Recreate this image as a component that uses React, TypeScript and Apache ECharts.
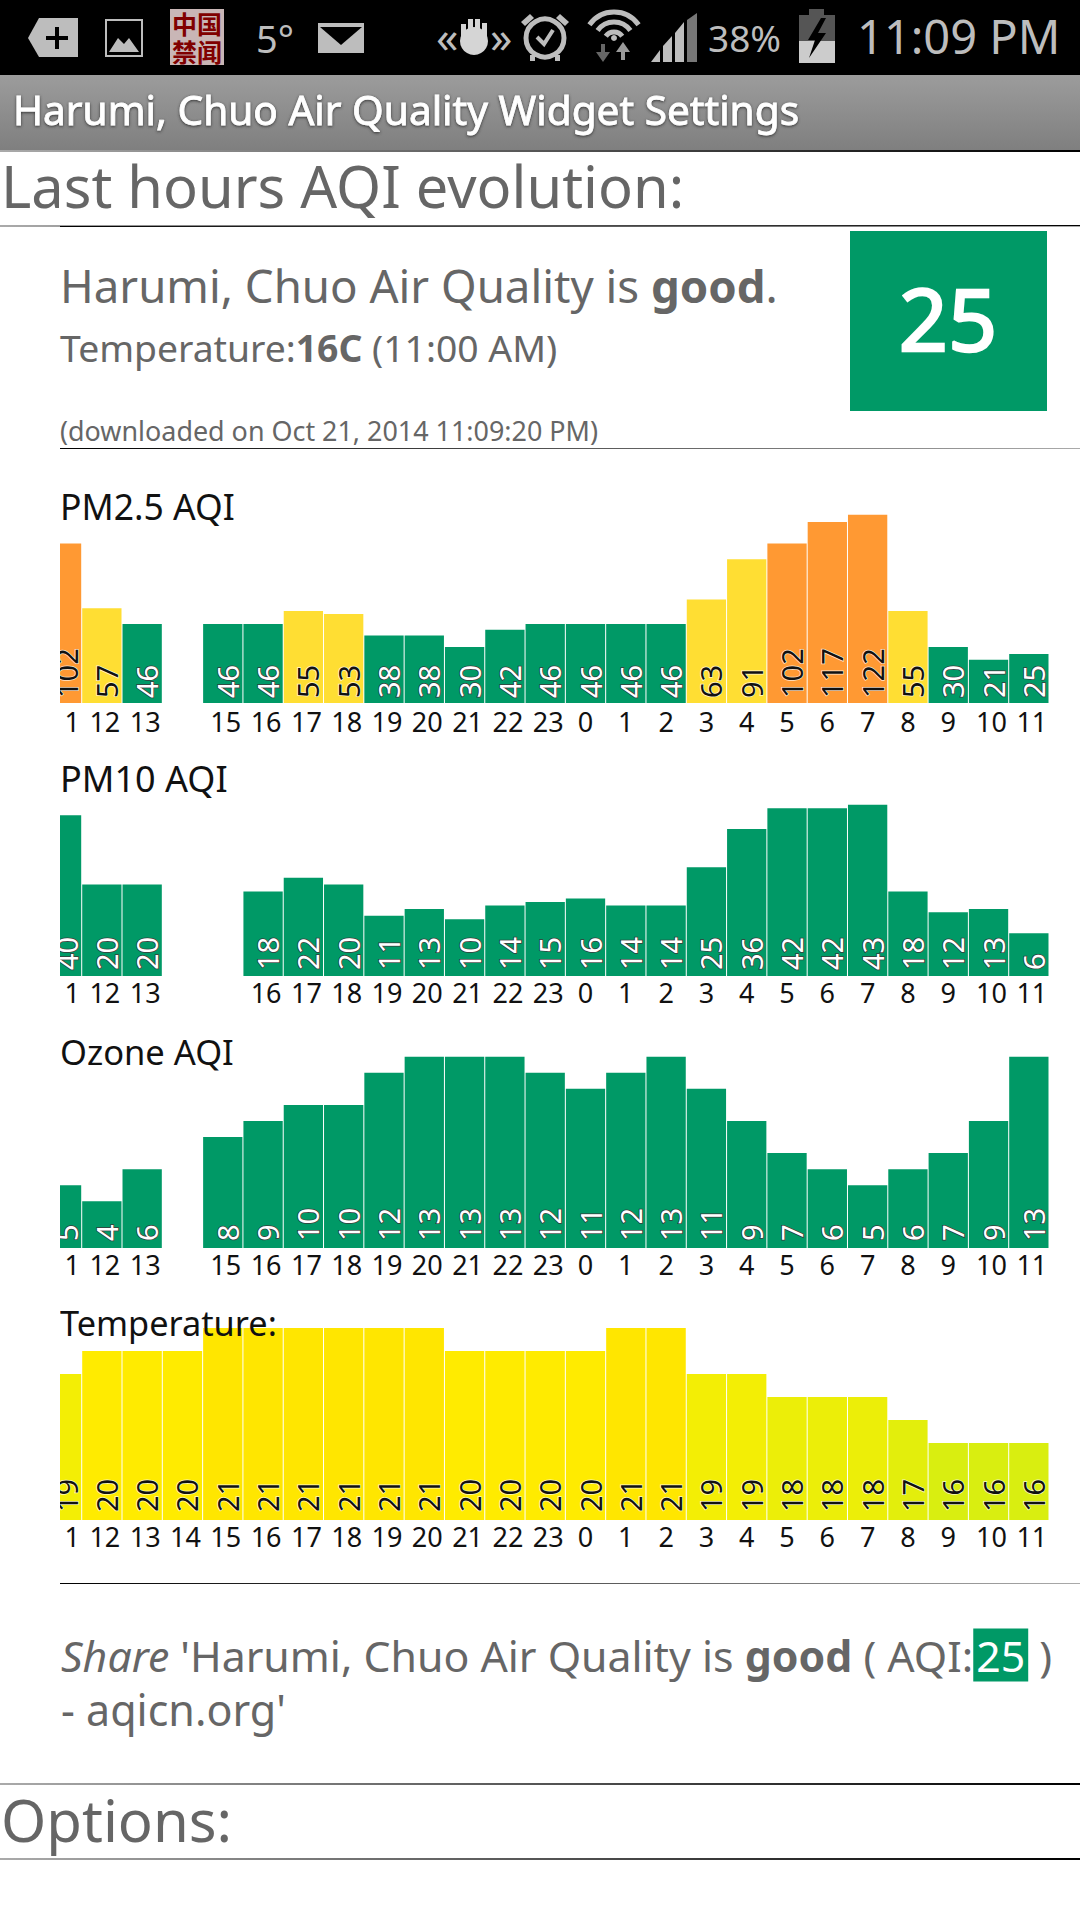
import React, { useEffect, useRef } from "react";
import * as echarts from "echarts";

const FONT = "Noto Sans";
const CJK = "Noto Sans CJK SC";

// Hour slots, oldest first. The first slot (hour 11) is cut off at the left of the page.
const pm25Hours = ["11","12","13","","15","16","17","18","19","20","21","22","23","0","1","2","3","4","5","6","7","8","9","10","11"];
const pm10Hours = ["11","12","13","","","16","17","18","19","20","21","22","23","0","1","2","3","4","5","6","7","8","9","10","11"];
const ozoneHours = ["11","12","13","","15","16","17","18","19","20","21","22","23","0","1","2","3","4","5","6","7","8","9","10","11"];
const tempHours = ["11","12","13","14","15","16","17","18","19","20","21","22","23","0","1","2","3","4","5","6","7","8","9","10","11"];

const pm25Values = [102,57,46,null,46,46,55,53,38,38,30,42,46,46,46,46,63,91,102,117,122,55,30,21,25];
const pm10Values = [40,20,20,null,null,18,22,20,11,13,10,14,15,16,14,14,25,36,42,42,43,18,12,13,6];
const ozoneValues = [5,4,6,null,8,9,10,10,12,13,13,13,12,11,12,13,11,9,7,6,5,6,7,9,13];
const tempValues = [19,20,20,20,21,21,21,21,21,21,20,20,20,20,21,21,19,19,18,18,18,17,16,16,16];

const GREEN = "#009966";
const YELLOW = "#FFDE33";
const ORANGE = "#FF9933";
const tempColours: Record<number, string> = {
  21: "#FFE600", 20: "#FFEB00", 19: "#F3EE05", 18: "#ECEE08", 17: "#E3EE0C", 16: "#D9EE10",
};
const aqiColour = (v: number) => (v <= 50 ? GREEN : v <= 100 ? YELLOW : ORANGE);

const SLOT_LEFT = 41.4;
const SLOT_RIGHT = 1049;

const panels = [
  { name: "PM2.5 AQI", titleTop: 488, titleSize: 35.5, hours: pm25Hours, values: pm25Values, colour: aqiColour, min: -9.05, scale: 1.436, height: 200, bottom: 703, dist: 5, margin: 5 },
  { name: "PM10 AQI", titleTop: 760, titleSize: 36, hours: pm10Hours, values: pm10Values, colour: aqiColour, min: -6.34, scale: 3.47, height: 190, bottom: 976, dist: 6, margin: 3 },
  { name: "Ozone AQI", titleTop: 1034, titleSize: 34.5, hours: ozoneHours, values: ozoneValues, colour: aqiColour, min: 1.095, scale: 16.07, height: 200, bottom: 1248, dist: 7, margin: 3 },
  { name: "Temperature:", titleTop: 1305, titleSize: 34.3, hours: tempHours, values: tempValues, colour: (v: number) => tempColours[v], min: 12.65, scale: 23, height: 200, bottom: 1520, dist: 8, margin: 3 },
];

const hGrad = (a: string, b: string) => ({
  type: "linear", x: 0, y: 0, x2: 1, y2: 0,
  colorStops: [{ offset: 0, color: a }, { offset: 1, color: b }],
});

const rule = (x: number, y: number, w: number, h: number, a: string, b: string) => ({
  type: "rect", shape: { x, y, width: w, height: h }, style: { fill: hGrad(a, b) }, z: 20,
});
const txt = (x: number, y: number, text: string, fontSize: number, fill: string, extra: any = {}) => ({
  type: "text", x, y, z: 30,
  style: { text, fontSize, fill, fontFamily: FONT, verticalAlign: "middle", align: "left", ...extra },
});
const ICON = "#BDBDBD";
const HAND = "#D5D5D5";
const rect = (x: number, y: number, width: number, height: number, fill: string, z = 25) => ({
  type: "rect", shape: { x, y, width, height }, style: { fill }, z,
});
const poly = (points: number[][], fill: string) => ({ type: "polygon", shape: { points }, style: { fill }, z: 26 });
const wifiArc = (r: number) => ({
  type: "arc", shape: { cx: 614, cy: 42, r, startAngle: (-145 * Math.PI) / 180, endAngle: (-35 * Math.PI) / 180 },
  style: { stroke: ICON, lineWidth: 5, fill: "none" }, z: 26,
});

const statusIcons: any[] = [
  poly([[28, 38], [39, 18], [78, 18], [78, 57], [39, 57]], ICON),
  rect(55, 27, 4, 22, "#000", 27), rect(46, 36, 22, 4, "#000", 27),
  { type: "rect", shape: { x: 106, y: 20, width: 36, height: 36 }, style: { fill: "none", stroke: ICON, lineWidth: 2 }, z: 26 },
  poly([[109, 52], [118, 38], [124, 44], [129, 38], [139, 52]], ICON),
  rect(170, 9, 54, 56, "#C9B6B6"),
  txt(172, 23, "中国", 25, "#800000", { fontFamily: CJK, fontWeight: "bold" }),
  txt(172, 51, "禁闻", 25, "#800000", { fontFamily: CJK, fontWeight: "bold" }),
  txt(256, 38, "5°", 38, ICON),
  rect(318, 23, 46, 30, ICON),
  poly([[320, 27], [362, 27], [341, 45]], "#000"),
  txt(436, 36, "«", 44, ICON),
  txt(490, 36, "»", 44, ICON),
  { type: "circle", shape: { cx: 474, cy: 41, r: 14 }, style: { fill: HAND }, z: 26 },
  rect(461, 24, 5, 18, HAND, 26), rect(468, 19, 5, 20, HAND, 26), rect(475, 19, 5, 20, HAND, 26), rect(482, 23, 5, 18, HAND, 26),
  { type: "circle", shape: { cx: 545, cy: 38, r: 19 }, style: { fill: "none", stroke: ICON, lineWidth: 5 }, z: 26 },
  { type: "polyline", shape: { points: [[537, 37], [544, 44], [553, 30]] }, style: { stroke: ICON, lineWidth: 4, fill: "none" }, z: 26 },
  poly([[521, 22], [530, 14], [534, 18], [525, 26]], ICON),
  poly([[569, 22], [560, 14], [556, 18], [565, 26]], ICON),
  rect(530, 55, 5, 6, ICON), rect(555, 55, 5, 6, ICON),
  wifiArc(30), wifiArc(20), wifiArc(10),
  { type: "circle", shape: { cx: 614, cy: 38, r: 3 }, style: { fill: ICON }, z: 26 },
  poly([[603, 62], [596, 52], [601, 52], [601, 44], [605, 44], [605, 52], [610, 52]], "#666"),
  poly([[623, 42], [630, 52], [625, 52], [625, 60], [621, 60], [621, 52], [616, 52]], "#9A9A9A"),
  poly([[651, 62], [660, 50], [660, 62]], ICON),
  poly([[663, 62], [663, 46], [672, 36], [672, 62]], ICON),
  poly([[675, 62], [675, 33], [684, 22], [684, 62]], ICON),
  poly([[687, 62], [687, 20], [697, 13], [697, 62]], "#777"),
  txt(708, 37, "38%", 37, ICON),
  rect(809, 9, 15, 7, "#555"),
  rect(799, 15, 36, 26, "#555"),
  rect(799, 41, 36, 22, "#CCCCCC"),
  poly([[821, 18], [808, 40], [815, 40], [809, 58], [826, 33], [818, 33], [826, 18]], "#000"),
  txt(857, 36, "11:09 PM", 47, ICON),
];

const pageGraphics: any[] = [
  rect(0, 0, 1080, 75, "#000"),
  { type: "rect", shape: { x: 0, y: 75, width: 1080, height: 75 }, z: 20,
    style: { fill: { type: "linear", x: 0, y: 0, x2: 0, y2: 1, colorStops: [{ offset: 0, color: "#9C9C9C" }, { offset: 1, color: "#7F7F7F" }] } } },
  ...statusIcons,
  txt(13, 109, "Harumi, Chuo Air Quality Widget Settings", 40.6, "#FFFFFF", { stroke: "#FFFFFF", lineWidth: 0.8, textShadowColor: "#333", textShadowBlur: 3, textShadowOffsetY: 1 }),
  rule(0, 150, 1080, 2, "#AAAAAA", "#000000"),
  txt(1, 185, "Last hours AQI evolution:", 57.8, "#666666"),
  rule(0, 225, 1080, 2, "#AAAAAA", "#000000"),
  rule(60, 226, 1020, 1, "#000000", "#AAAAAA"),
  rect(850, 231, 197, 180, GREEN),
  txt(948, 317, "25", 86, "#FFFFFF", { align: "center", stroke: "#FFFFFF", lineWidth: 2.5 }),
  { type: "text", x: 60, y: 285, z: 30, style: {
      text: "Harumi, Chuo Air Quality is {b|good}.", fontSize: 45.6, fill: "#666666", fontFamily: FONT, verticalAlign: "middle",
      rich: { b: { fontSize: 45.6, fontWeight: "bold", fill: "#666666", fontFamily: FONT } } } },
  { type: "text", x: 60, y: 347, z: 30, style: {
      text: "Temperature:{b|16C} (11:00 AM)", fontSize: 37.3, fill: "#666666", fontFamily: FONT, verticalAlign: "middle",
      rich: { b: { fontSize: 37.3, fontWeight: "bold", fill: "#666666", fontFamily: FONT } } } },
  txt(60, 430, "(downloaded on Oct 21, 2014 11:09:20 PM)", 26.9, "#666666"),
  rule(60, 448, 1020, 1, "#000000", "#AAAAAA"),
  rule(60, 1583, 1020, 1, "#000000", "#AAAAAA"),
  { type: "text", x: 61, y: 1655, z: 30, style: {
      text: "{i|Share} 'Harumi, Chuo Air Quality is {b|good} ( AQI:{h|25} )", fontSize: 42.8, fill: "#666666", fontFamily: FONT, verticalAlign: "middle",
      rich: {
        i: { fontSize: 42.8, fontStyle: "italic", fill: "#666666", fontFamily: FONT },
        b: { fontSize: 42.8, fontWeight: "bold", fill: "#666666", fontFamily: FONT },
        h: { fontSize: 42.8, fill: "#FFFFFF", fontFamily: FONT, backgroundColor: GREEN, padding: [5, 3, 5, 3] },
      } } },
  txt(61, 1709, "- aqicn.org'", 43, "#666666"),
  rule(0, 1783, 1080, 2, "#AAAAAA", "#000000"),
  txt(1, 1819, "Options:", 58, "#666666"),
  rule(0, 1858, 1080, 2, "#AAAAAA", "#000000"),
  // the page cuts the oldest hour's column off at the left edge of the content
  { type: "rect", shape: { x: 0, y: 480, width: 60, height: 1080 }, style: { fill: "#FFFFFF" }, z: 15 },
];

function buildOption() {
  const grid: any[] = [], xAxis: any[] = [], yAxis: any[] = [], series: any[] = [], title: any[] = [];
  panels.forEach((p, i) => {
    grid.push({ left: SLOT_LEFT, width: SLOT_RIGHT - SLOT_LEFT, top: p.bottom - p.height, height: p.height, containLabel: false });
    title.push({ text: p.name, left: 60, top: p.titleTop, padding: 0, textStyle: { fontFamily: FONT, fontWeight: "normal", fontSize: p.titleSize, color: "#111111" } });
    xAxis.push({
      type: "category", gridIndex: i,
      data: p.hours.map((h) => ({ value: h, textStyle: h.length > 1 ? { padding: [0, 0, 0, 6] } : {} })),
      axisLine: { show: false }, axisTick: { show: false },
      axisLabel: { interval: 0, hideOverlap: false, margin: p.margin, fontSize: 27, color: "#111111", fontFamily: FONT },
    });
    yAxis.push({ type: "value", gridIndex: i, show: false, min: p.min, max: p.min + p.height / p.scale, splitLine: { show: false } });
    const below = p.min < 0 ? -p.min * p.scale : 0;
    series.push({
      type: "bar", name: p.name, xAxisIndex: i, yAxisIndex: i, stack: "p" + i, barWidth: 39.3, clip: true,
      label: { show: true, position: "insideBottom", rotate: 90, align: "left", verticalAlign: "middle", distance: p.dist,
        offset: [-below, 4.5], fontSize: 29, fontFamily: FONT, formatter: "{c}" },
      data: p.values.map((v) => {
        if (v == null) return null;
        const c = p.colour(v);
        const onGreen = c === GREEN;
        return { value: v, itemStyle: { color: c },
          label: { color: onGreen ? "#FFFFFF" : "#111111", textBorderColor: onGreen ? "#3A3A3A" : "rgba(255,255,255,0.75)", textBorderWidth: 1.5 } };
      }),
    });
    if (p.min < 0) {
      series.push({
        type: "bar", name: p.name + " axis floor", xAxisIndex: i, yAxisIndex: i, stack: "p" + i, barWidth: 39.3, clip: true, silent: true,
        data: p.values.map((v) => (v == null ? null : { value: p.min, itemStyle: { color: p.colour(v) } })),
      });
    }
  });
  return { animation: false, backgroundColor: "#FFFFFF", grid, xAxis, yAxis, series, title, graphic: { elements: pageGraphics } };
}

export default function App() {
  const ref = useRef<HTMLDivElement>(null);
  useEffect(() => {
    document.body.style.margin = "0";
    const chart = echarts.init(ref.current!, null, { renderer: "svg" });
    chart.setOption(buildOption() as any);
    return () => chart.dispose();
  }, []);
  return <div ref={ref} style={{ position: "absolute", left: 0, top: 0, width: 1080, height: 1920 }} />;
}
